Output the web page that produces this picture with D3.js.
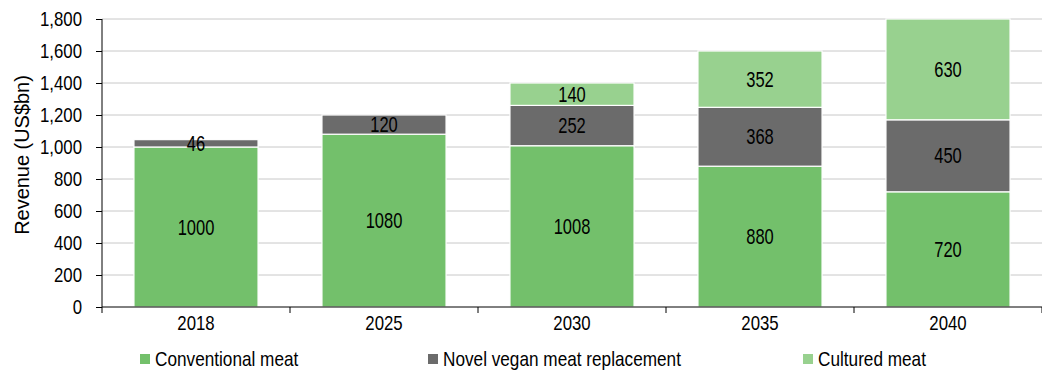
<!DOCTYPE html>
<html>
<head>
<meta charset="utf-8">
<script src="https://cdn.jsdelivr.net/npm/d3@7"></script>
<style>
  body { margin: 0; background: #fff; }
  svg text { font-family: "Liberation Sans", Arial, sans-serif; fill: #000; }
</style>
</head>
<body>
<script>
// data
const years = ["2018", "2025", "2030", "2035", "2040"];
const conventional = [1000, 1080, 1008, 880, 720];
const vegan = [46, 120, 252, 368, 450];
const cultured = [0, 0, 140, 352, 630];
const seriesNames = ["Conventional meat", "Novel vegan meat replacement", "Cultured meat"];
const seriesColors = ["#73c06b", "#6b6b6b", "#98d18f"];
const yTicks = [0, 200, 400, 600, 800, 1000, 1200, 1400, 1600, 1800];

const W = 1042, H = 374;
const margin = { top: 19, right: 0, bottom: 67, left: 102 };
const width = W - margin.left - margin.right,
      height = H - margin.top - margin.bottom;

// the original uses a narrow font, so squeeze text horizontally
function squeeze(sel, k) {
  sel.each(function() {
    let t = d3.select(this);
    let x0 = +t.attr("x") || 0;
    t.attr("x", x0 / k).attr("transform", "scale(" + k + ",1)");
  });
}

const rows = years.map(function(y, i) {
  return { year: y, conv: conventional[i], vegan: vegan[i], cult: cultured[i] };
});
const keys = ["conv", "vegan", "cult"];

const svg = d3.select("body").append("svg")
  .attr("width", W)
  .attr("height", H);

const g = svg.append("g")
  .attr("transform", "translate(" + margin.left + "," + margin.top + ")");

const x = d3.scaleBand()
  .domain(years)
  .range([0, width])
  .paddingInner(0.34)
  .paddingOuter(0.17);

const y = d3.scaleLinear()
  .domain([0, 1800])
  .range([height, 0]);

// gridlines
g.append("g").selectAll("line")
  .data(yTicks.slice(1))
  .enter().append("line")
  .attr("x1", 0).attr("x2", width)
  .attr("y1", d => y(d)).attr("y2", d => y(d))
  .attr("stroke", "#c8c8c8")
  .attr("stroke-width", 1);

// bars
const stack = d3.stack().keys(keys);
const layers = stack(rows);

const layer = g.selectAll(".layer")
  .data(layers)
  .enter().append("g")
  .attr("fill", (d, i) => seriesColors[i]);

layer.selectAll("rect")
  .data(d => d.filter(p => p[1] - p[0] > 0))
  .enter().append("rect")
  .attr("x", d => x(d.data.year))
  .attr("width", x.bandwidth())
  .attr("y", d => y(d[1]))
  .attr("height", d => y(d[0]) - y(d[1]))
  .attr("stroke", "#fff")
  .attr("stroke-width", 1.2);

// value labels
layer.selectAll("text")
  .data(d => d.filter(p => p[1] - p[0] > 0))
  .enter().append("text")
  .attr("x", d => x(d.data.year) + x.bandwidth() / 2)
  .attr("y", d => (y(d[0]) + y(d[1])) / 2)
  .attr("dy", "0.35em")
  .attr("text-anchor", "middle")
  .style("font-size", "22px")
  .text(d => d[1] - d[0])
  .call(squeeze, 0.75);

// y axis
const yAxis = g.append("g")
  .call(d3.axisLeft(y).tickValues(yTicks).tickSize(6).tickPadding(14)
    .tickFormat(d3.format(",")));
yAxis.select(".domain").attr("stroke", "#000").attr("d", "M0," + height + "V0");
yAxis.selectAll(".tick line").attr("stroke", "#000");
yAxis.selectAll("text").style("font-size", "20px").call(squeeze, 0.84);

// x axis
const xEdges = d3.range(years.length + 1).map(i => i * width / years.length);
const xAxis = g.append("g")
  .attr("transform", "translate(0," + height + ")")
  .call(d3.axisBottom(x).tickSize(0).tickPadding(9));
xAxis.select(".domain").attr("stroke", "#000").attr("d", "M0,0H" + width);
xAxis.selectAll("text").style("font-size", "20px").call(squeeze, 0.84);
xAxis.selectAll(".edge")
  .data(xEdges)
  .enter().append("line")
  .attr("x1", d => d).attr("x2", d => d)
  .attr("y1", 0).attr("y2", 6)
  .attr("stroke", "#000");

// y axis title
svg.append("text")
  .attr("transform", "translate(22,155) rotate(-90) scale(0.95,1)")
  .attr("dy", "0.35em")
  .attr("text-anchor", "middle")
  .style("font-size", "21px")
  .text("Revenue (US$bn)");

// legend
const legendX = [140, 428, 803];
const legend = svg.append("g").selectAll("g")
  .data(seriesNames)
  .enter().append("g")
  .attr("transform", (d, i) => "translate(" + legendX[i] + ",359)");
legend.append("rect")
  .attr("x", 0).attr("y", -5)
  .attr("width", 10).attr("height", 10)
  .attr("fill", (d, i) => seriesColors[i]);
legend.append("text")
  .attr("x", 15)
  .attr("dy", "0.35em")
  .style("font-size", "20px")
  .text(d => d)
  .call(squeeze, 0.86);
</script>
</body>
</html>
